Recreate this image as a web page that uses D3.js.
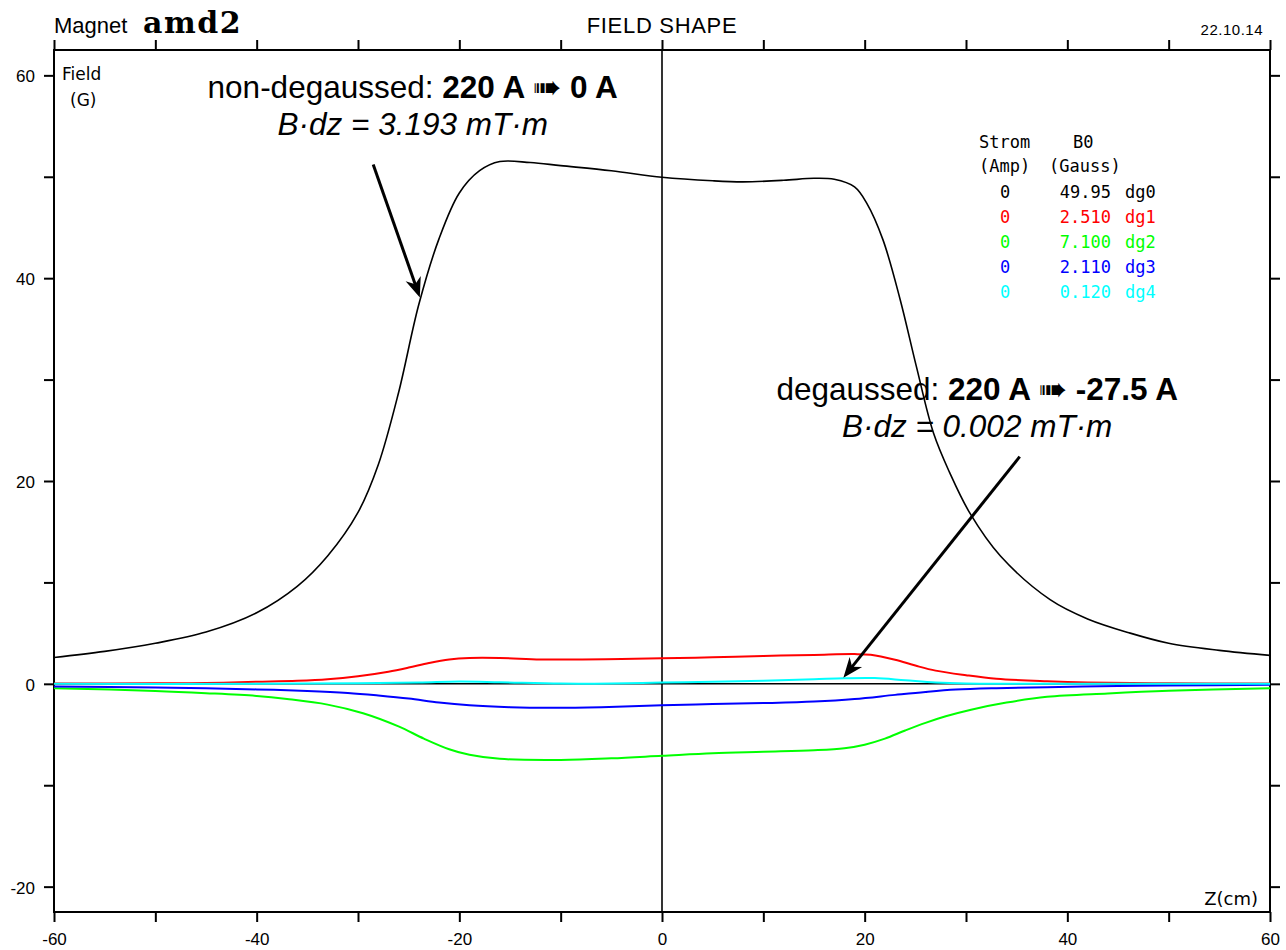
<!DOCTYPE html>
<html>
<head>
<meta charset="utf-8">
<script src="https://cdn.jsdelivr.net/npm/d3@7"></script>
<style>
  body { margin: 0; background: #fff; }
  svg { display: block; }
</style>
</head>
<body>
<svg id="chart"></svg>
<script>
// field profiles, Z in cm, B in Gauss
const zDg0 = [-60, -55, -50, -45, -40, -36, -33, -30, -28, -26, -24, -22, -20, -18, -16, -13, -10, -5, 0, 5, 8, 12, 15, 17, 19, 20.2, 21.8, 23.5, 25.1, 26.8, 28.4, 30.4, 33.4, 38.3, 42, 46.2, 50, 55, 60];
const bDg0 = [2.6, 3.2, 4.0, 5.1, 7.0, 9.6, 12.6, 16.9, 21.6, 28.7, 37.4, 43.9, 48.4, 50.6, 51.5, 51.4, 51.1, 50.6, 49.95, 49.6, 49.5, 49.65, 49.85, 49.75, 49.0, 47.4, 43.8, 37.9, 31.3, 24.7, 20.8, 16.8, 12.6, 8.3, 6.4, 5.0, 4.0, 3.3, 2.8];

const zDg1 = [-60, -50, -45, -40, -36, -33, -30, -27, -25, -23, -21, -19, -16, -12, -8, -4, 0, 5, 10, 15, 19, 20.6, 23, 25, 27, 30, 33, 38, 42, 50, 60];
const bDg1 = [0.02, 0.05, 0.08, 0.2, 0.3, 0.45, 0.75, 1.2, 1.6, 2.05, 2.4, 2.55, 2.55, 2.4, 2.4, 2.45, 2.51, 2.62, 2.75, 2.85, 2.93, 2.86, 2.37, 1.8, 1.3, 0.85, 0.5, 0.25, 0.13, 0.06, 0.03];

const zDg2 = [-60, -50, -45, -40, -37, -33, -29.5, -26, -23.5, -21, -19, -16, -10, -5, 0, 5, 10, 15, 18, 20, 22, 24, 26, 28, 30.5, 34, 38, 44, 50, 60];
const bDg2 = [-0.43, -0.7, -0.92, -1.2, -1.5, -2.05, -2.9, -4.2, -5.4, -6.45, -7.0, -7.4, -7.5, -7.35, -7.1, -6.85, -6.7, -6.55, -6.35, -6.0, -5.4, -4.6, -3.85, -3.2, -2.55, -1.85, -1.28, -0.95, -0.69, -0.43];

const zDg3 = [-60, -50, -45, -40, -35, -31, -28, -25, -22, -19, -15, -11, -6, 0, 5, 10, 15, 19, 23, 26, 29, 33, 38, 45, 50, 60];
const bDg3 = [-0.26, -0.36, -0.43, -0.55, -0.7, -0.9, -1.15, -1.45, -1.85, -2.12, -2.3, -2.36, -2.3, -2.11, -2.0, -1.9, -1.75, -1.5, -1.09, -0.8, -0.57, -0.43, -0.33, -0.22, -0.16, -0.1];

const zDg4 = [-60, -40, -30, -24, -20, -16, -10, -5, 0, 5, 10, 15, 18, 21, 24, 27, 30, 40, 60];
const bDg4 = [0.0, 0.0, 0.05, 0.12, 0.22, 0.15, 0.02, 0.03, 0.12, 0.2, 0.3, 0.45, 0.55, 0.57, 0.35, 0.13, 0.03, 0.0, 0.0];

// legend table
const legendNames = ['dg0', 'dg1', 'dg2', 'dg3', 'dg4'];
const legendStrom = ['0', '0', '0', '0', '0'];
const legendB0 = ['49.95', '2.510', '7.100', '2.110', '0.120'];
const seriesColors = ['#000000', '#ff0000', '#00ff00', '#0000ff', '#00ffff'];

const xTicks = d3.range(-60, 61, 10);
const yTicks = d3.range(-20, 61, 10);
const xLabels = [-60, -40, -20, 0, 20, 40, 60];
const yLabels = [-20, 0, 20, 40, 60];

const O = {
    width: 1286,
    height: 950,
    left: 54,
    right: 1270,
    top: 50,
    bottom: 912,
    tickSize: 10,
    tickFont: '"Liberation Sans", Arial, sans-serif',
    plotFont: '"DejaVu Sans", sans-serif',
    monoFont: '"DejaVu Sans Mono", monospace',
    noteFont: '"Liberation Sans", Arial, Helvetica, sans-serif',
    noteSize: 31.5
};

const svg = d3.select('#chart')
    .attr('width', O.width)
    .attr('height', O.height);

const x = d3.scaleLinear().domain([-60, 60]).range([O.left, O.right]);
const y = d3.scaleLinear().domain([-22.5, 62.5]).range([O.bottom, O.top]);

svg.append('defs').append('clipPath').attr('id', 'plot-clip')
    .append('rect')
    .attr('x', O.left).attr('y', O.top)
    .attr('width', O.right - O.left).attr('height', O.bottom - O.top);

// axes: ticks every 10, labels every 20, ticks pointing outwards on all sides
function styleAxis(g) {
    g.select('.domain').remove();
    g.selectAll('.tick line').attr('stroke', '#000').attr('stroke-width', 2);
    g.selectAll('.tick text')
        .attr('font-family', O.tickFont)
        .attr('font-size', 17)
        .attr('fill', '#000');
}

const fmtX = d => xLabels.includes(d) ? d : '';
const fmtY = d => yLabels.includes(d) ? d : '';

svg.append('g')
    .attr('transform', `translate(0,${O.bottom})`)
    .call(d3.axisBottom(x).tickValues(xTicks).tickSize(O.tickSize).tickFormat(fmtX))
    .call(styleAxis)
    .call(g => g.selectAll('.tick text').attr('y', 33).attr('dy', 0));

svg.append('g')
    .attr('transform', `translate(0,${O.top})`)
    .call(d3.axisTop(x).tickValues(xTicks).tickSize(O.tickSize).tickFormat(''))
    .call(styleAxis);

svg.append('g')
    .attr('transform', `translate(${O.left},0)`)
    .call(d3.axisLeft(y).tickValues(yTicks).tickSize(O.tickSize).tickFormat(fmtY).tickPadding(9))
    .call(styleAxis)
    .call(g => g.selectAll('.tick text').attr('dy', '0.38em'));

svg.append('g')
    .attr('transform', `translate(${O.right},0)`)
    .call(d3.axisRight(y).tickValues(yTicks).tickSize(O.tickSize).tickFormat(''))
    .call(styleAxis);

// frame
svg.append('rect')
    .attr('x', O.left).attr('y', O.top)
    .attr('width', O.right - O.left).attr('height', O.bottom - O.top)
    .attr('fill', 'none').attr('stroke', '#000').attr('stroke-width', 2);

// zero lines
svg.append('line')
    .attr('x1', x(0)).attr('x2', x(0)).attr('y1', O.top).attr('y2', O.bottom)
    .attr('stroke', '#000').attr('stroke-width', 1.6);
svg.append('line')
    .attr('x1', O.left).attr('x2', O.right).attr('y1', y(0)).attr('y2', y(0))
    .attr('stroke', '#000').attr('stroke-width', 1.6);

// curves
const series = [
    [zDg0, bDg0], [zDg1, bDg1], [zDg2, bDg2], [zDg3, bDg3], [zDg4, bDg4]
];
const line = d3.line()
    .x(d => x(d[0]))
    .y(d => y(d[1]))
    .curve(d3.curveCatmullRom.alpha(0.5));

const curves = svg.append('g').attr('clip-path', 'url(#plot-clip)');
series.forEach(([zs, bs], i) => {
    curves.append('path')
        .datum(d3.zip(zs, bs))
        .attr('d', line)
        .attr('fill', 'none')
        .attr('stroke', seriesColors[i])
        .attr('stroke-width', i === 0 ? 1.6 : 2);
});

// header
svg.append('text')
    .attr('x', O.left).attr('y', 33)
    .attr('font-family', O.tickFont).attr('font-size', 22)
    .text('Magnet');
svg.append('text')
    .attr('x', 143).attr('y', 33)
    .attr('font-family', '"DejaVu Serif", "Liberation Serif", serif')
    .attr('font-weight', 'bold').attr('font-size', 30)
    .attr('letter-spacing', 1.5)
    .text('amd2');
svg.append('text')
    .attr('x', x(0)).attr('y', 33)
    .attr('text-anchor', 'middle')
    .attr('font-family', O.tickFont).attr('font-size', 22)
    .attr('letter-spacing', 0.7)
    .text('FIELD SHAPE');
svg.append('text')
    .attr('x', 1263).attr('y', 35)
    .attr('text-anchor', 'end')
    .attr('font-family', O.tickFont).attr('font-size', 15)
    .attr('letter-spacing', 0.5)
    .text('22.10.14');

// axis titles inside the frame
svg.append('text')
    .attr('x', 62).attr('y', 80)
    .attr('font-family', O.plotFont).attr('font-size', 17)
    .text('Field');
svg.append('text')
    .attr('x', 70).attr('y', 106)
    .attr('font-family', O.plotFont).attr('font-size', 17)
    .text('(G)');
svg.append('text')
    .attr('x', 1258).attr('y', 905)
    .attr('text-anchor', 'end')
    .attr('font-family', O.plotFont).attr('font-size', 18)
    .text('Z(cm)');

// legend table
const legend = svg.append('g')
    .attr('font-family', O.monoFont)
    .attr('font-size', 17);
legend.append('text').attr('x', 979).attr('y', 148).text('Strom');
legend.append('text').attr('x', 1073).attr('y', 148).text('B0');
legend.append('text').attr('x', 979).attr('y', 172).text('(Amp)');
legend.append('text').attr('x', 1049).attr('y', 172).text('(Gauss)');
legendNames.forEach((name, i) => {
    const row = legend.append('g')
        .attr('fill', seriesColors[i])
        .attr('transform', `translate(0,${198 + i * 25})`);
    row.append('text').attr('x', 1005).attr('text-anchor', 'middle').text(legendStrom[i]);
    row.append('text').attr('x', 1111).attr('text-anchor', 'end').text(legendB0[i]);
    row.append('text').attr('x', 1125).text(name);
});

// annotations, anchored in data coordinates
const notes = [
    { z: -24.6, b: 57.8, lead: 'non-degaussed: ', from: '220 A', to: '0 A', integral: 'B·dz = 3.193 mT·m',
      arrowFrom: [-28.5, 51.2], arrowTo: [-23.9, 38.1] },
    { z: 31.1, b: 28.0, lead: 'degaussed: ', from: '220 A', to: '-27.5 A', integral: 'B·dz = 0.002 mT·m',
      arrowFrom: [35.3, 22.4], arrowTo: [17.9, 0.6] }
];

svg.select('defs').append('marker')
    .attr('id', 'head')
    .attr('markerUnits', 'userSpaceOnUse')
    .attr('viewBox', '-22 -10 24 20')
    .attr('markerWidth', 24).attr('markerHeight', 20)
    .attr('refX', 0).attr('refY', 0)
    .attr('orient', 'auto')
    .append('path')
    .attr('d', 'M0,0 L-20,-8 L-14,0 L-20,8 Z')
    .attr('fill', '#000');

notes.forEach(n => {
    const t = svg.append('text')
        .attr('x', x(n.z)).attr('y', y(n.b))
        .attr('text-anchor', 'middle')
        .attr('font-family', O.noteFont).attr('font-size', O.noteSize);
    t.append('tspan').text(n.lead);
    t.append('tspan').attr('font-weight', 'bold').text(n.from + ' ');
    t.append('tspan').attr('font-family', O.plotFont).attr('font-size', 34).attr('dy', 1).text('➠');
    t.append('tspan').attr('font-weight', 'bold').attr('dy', -1).text(' ' + n.to);

    svg.append('text')
        .attr('x', x(n.z)).attr('y', y(n.b) + 37)
        .attr('text-anchor', 'middle')
        .attr('font-family', O.noteFont).attr('font-size', O.noteSize)
        .attr('font-style', 'italic')
        .text(n.integral);

    const x1 = x(n.arrowFrom[0]), y1 = y(n.arrowFrom[1]);
    const x2 = x(n.arrowTo[0]), y2 = y(n.arrowTo[1]);
    const len = Math.hypot(x2 - x1, y2 - y1);
    const ux = (x2 - x1) / len, uy = (y2 - y1) / len;
    svg.append('line')
        .attr('x1', x1).attr('y1', y1)
        .attr('x2', x2 - ux * 10).attr('y2', y2 - uy * 10)
        .attr('stroke', '#000').attr('stroke-width', 3);
    svg.append('path')
        .attr('d', `M${x2 - ux * 12},${y2 - uy * 12}L${x2},${y2}`)
        .attr('stroke', 'none')
        .attr('marker-end', 'url(#head)');
});
</script>
</body>
</html>
